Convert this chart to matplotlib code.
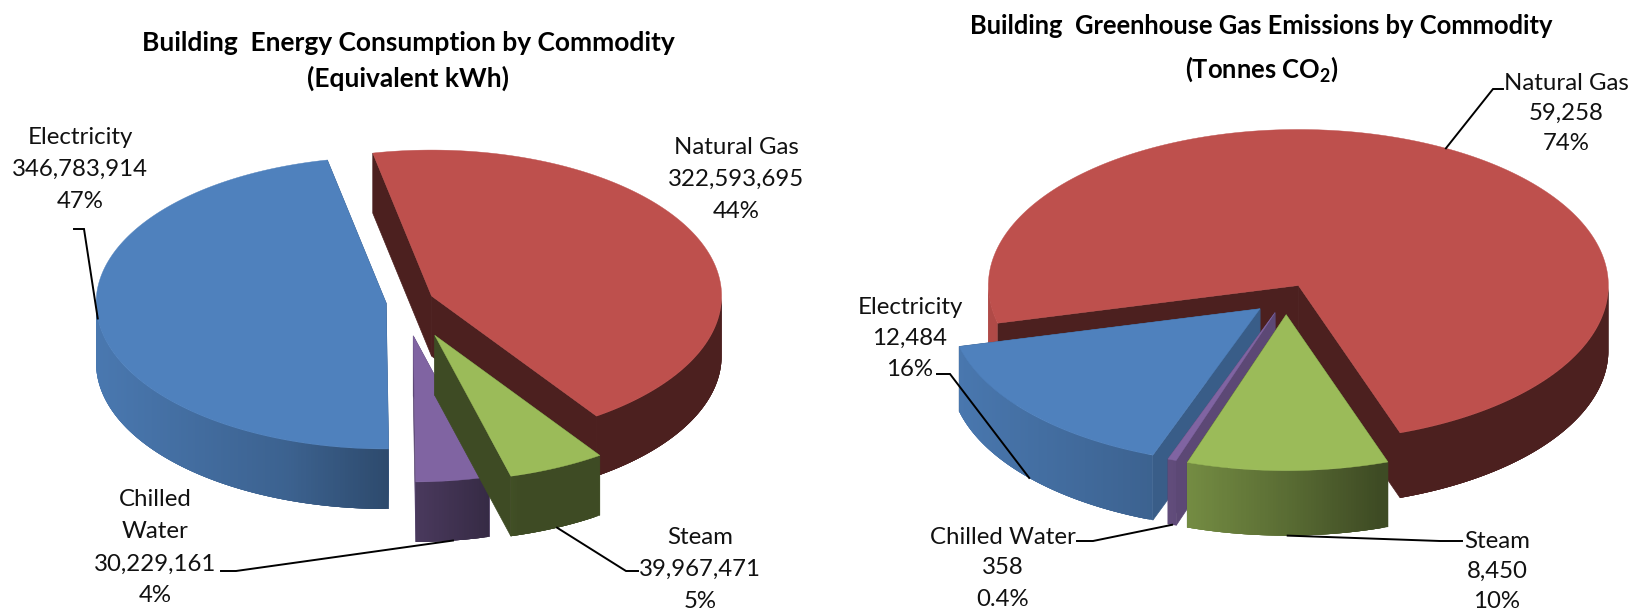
import numpy as np
import matplotlib
matplotlib.use("Agg")
from matplotlib import pyplot as plt
from matplotlib.colors import to_rgb

plt.rcParams['font.family'] = ['Lato', 'DejaVu Sans']
plt.rcParams['mathtext.fontset'] = 'custom'
plt.rcParams['mathtext.bf'] = 'Lato:bold'
plt.rcParams['mathtext.rm'] = 'Lato'

# wedges go clockwise in this order, both pies
commodities = ["Natural Gas", "Steam", "Chilled Water", "Electricity"]
energy_kwh = [322593695, 39967471, 30229161, 346783914]
energy_pct = ["44%", "5%", "4%", "47%"]
co2_tonnes = [59258, 8450, 358, 12484]
co2_pct = ["74%", "10%", "0.4%", "16%"]

colors = ["#BE504D", "#9BBB59", "#8064A2", "#4F81BD"]
cut_shade = [0.40, 0.40, 0.72, 0.72]

fig = plt.figure(figsize=(16.29, 6.10), dpi=100)
ax = fig.add_axes([0, 0, 1, 1])
ax.set_xlim(0, 1629)
ax.set_ylim(610, 0)
ax.axis("off")

z = [10]


def next_z():
    z[0] += 1
    return z[0]


def shade(theta):
    nx = np.sin(np.radians(theta))
    return np.interp(nx, [-1, -0.34, 0, 0.3, 1], [0.93, 0.76, 0.58, 0.40, 0.40])


def dark(color, f):
    return tuple(c * f for c in to_rgb(color))


def rim(apex, theta, a, b):
    t = np.radians(theta)
    return apex[0] + a * np.sin(t), apex[1] - b * np.cos(t)


def draw_pie(values, center, a, b, depth, start, explode, order):
    total = sum(values)
    angles = np.array(values) / total * 360
    edges = start + np.concatenate([[0], np.cumsum(angles)])
    info = []
    for i in range(len(values)):
        t0, t1 = edges[i], edges[i + 1]
        mid = (t0 + t1) / 2
        m = np.radians(mid)
        apex = (center[0] + explode[i] * np.sin(m), center[1] - explode[i] * np.cos(m) * b / a)
        info.append((t0, t1, mid, apex))

    for i in order:
        t0, t1, mid, apex = info[i]
        # cut faces
        for t in (t0, t1):
            x, y = rim(apex, t, a, b)
            ax.fill([apex[0], x, x, apex[0]], [apex[1], y, y + depth, apex[1] + depth],
                    color=dark(colors[i], cut_shade[i]), lw=0.5, zorder=next_z())
        # outer wall, only the front half can be seen
        # each strip runs on under the next one so no seams show
        ts = np.arange(t0, t1 + 0.5, 0.5)
        ts[-1] = t1
        for p, q in zip(ts[:-1], ts[1:]):
            if np.cos(np.radians((p + q) / 2)) > 0:
                continue
            tt = np.linspace(p, min(q + 1.5, t1), 6)
            xs, ys = rim(apex, tt, a, b)
            ax.fill(np.r_[xs, xs[::-1]], np.r_[ys, ys[::-1] + depth],
                    color=dark(colors[i], shade((p + q) / 2)), lw=0, zorder=next_z())
        # top
        ts = np.linspace(t0, t1, 200)
        xs, ys = rim(apex, ts, a, b)
        ax.fill(np.r_[apex[0], xs], np.r_[apex[1], ys], color=colors[i], lw=0.3, zorder=next_z())
    return info


def leader(info, i, a, b, depth, elbow, end):
    mid = info[i][2]
    x, y = rim(info[i][3], mid, a, b)
    if abs(np.sin(np.radians(mid))) < 0.9 and np.cos(np.radians(mid)) < 0:
        y = y + depth
    ax.plot([x, elbow[0], end[0]], [y, elbow[1], end[1]], color="black", lw=1.4,
            solid_joinstyle="miter", zorder=5000)


def label(x, ys, lines):
    for y, s in zip(ys, lines):
        ax.text(x, y + 2, s, ha="center", va="center", fontsize=17.3, color="#111111", zorder=6000)


# left pie
a1, b1, d1 = 290, 146, 60
left = draw_pie(energy_kwh, (404, 302), a1, b1, d1, -11.7, [30, 73, 68, 18], [0, 3, 2, 1])
ax.text(408, 43, "Building  Energy Consumption by Commodity", ha="center", va="center",
        fontsize=19, fontweight="bold")
ax.text(408, 78, "(Equivalent kWh)", ha="center", va="center", fontsize=19, fontweight="bold")
label(736, [146, 177, 209], ["Natural Gas", f"{energy_kwh[0]:,}", energy_pct[0]])
label(700, [536, 567, 599], ["Steam", f"{energy_kwh[1]:,}", energy_pct[1]])
label(155, [498, 530, 562, 593], ["Chilled", "Water", f"{energy_kwh[2]:,}", energy_pct[2]])
label(80, [135, 167, 199], ["Electricity", f"{energy_kwh[3]:,}", energy_pct[3]])
leader(left, 3, a1, b1, d1, (84, 229), (74, 229))
leader(left, 2, a1, b1, d1, (236, 571), (221, 571))
leader(left, 1, a1, b1, d1, (626, 571), (638, 571))

# right pie
a2, b2, d2 = 310, 156, 65
right = draw_pie(co2_tonnes, (1286, 297), a2, b2, d2, -104, [26, 35, 33, 35], [0, 3, 2, 1])
ax.text(1261, 26, "Building  Greenhouse Gas Emissions by Commodity", ha="center", va="center",
        fontsize=18.4, fontweight="bold")
ax.text(1262, 69, r"(Tonnes CO$_{\mathbf{2}}$)", ha="center", va="center", fontsize=18.4, fontweight="bold")
label(1566, [81, 111, 142], ["Natural Gas", f"{co2_tonnes[0]:,}", co2_pct[0]])
label(1497, [539, 569, 599], ["Steam", f"{co2_tonnes[1]:,}", co2_pct[1]])
label(1003, [536, 566, 597], ["Chilled Water", f"{co2_tonnes[2]:,}", co2_pct[2]])
label(910, [306, 336, 367], ["Electricity", f"{co2_tonnes[3]:,}", co2_pct[3]])
leader(right, 0, a2, b2, d2, (1493, 89), (1503, 89))
leader(right, 3, a2, b2, d2, (950, 374), (937, 374))
leader(right, 2, a2, b2, d2, (1093, 541), (1077, 541))
leader(right, 1, a2, b2, d2, (1440, 541), (1462, 541))

fig.savefig("out.png", dpi=100)
